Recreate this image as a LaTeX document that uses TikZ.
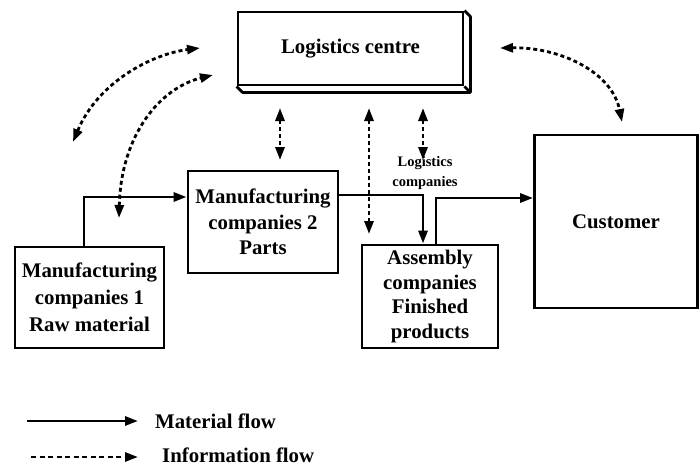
\documentclass[tikz,border=0pt]{standalone}
\usepackage{fontspec}
\setmainfont{Liberation Serif}
\usetikzlibrary{arrows.meta,calc}
\begin{document}
\begin{tikzpicture}[x=1pt,y=-1pt,
  box/.style={draw,line width=2.8pt,inner sep=0pt,align=center,
    font=\fontsize{20.8}{25.5}\selectfont\bfseries},
  mat/.style={line width=2.8pt,-{Triangle[length=13pt,width=9pt]}},
  info/.style={line width=2.8pt,dash pattern=on 4pt off 3pt,
    {Triangle[length=13pt,width=9pt]}-{Triangle[length=13pt,width=9pt]}},
  legend/.style={anchor=west,inner sep=0pt,font=\fontsize{20.8}{25}\selectfont\bfseries},
]
\useasboundingbox (0,0) rectangle (699,466);

% Logistics centre, drawn as a raised slab
\node[box,minimum width=225pt,minimum height=73pt] (lc) at (350.5,48.5) {Logistics centre};
\draw[line width=2.8pt,line join=round]
  (lc.south west) -- ++(6,6) -- ($(lc.south east)+(6,6)$) -- ($(lc.north east)+(6,6)$) -- (lc.north east)
  (lc.south east) -- ++(6,6);

% Companies
\node[box,minimum width=149pt,minimum height=101pt,
  font=\fontsize{20.8}{27}\selectfont\bfseries] (mc1) at (89.5,297.5)
  {Manufacturing\\companies 1\\Raw material};
\node[box,minimum width=150pt,minimum height=102pt] (mc2) at (263,222)
  {Manufacturing\\companies 2\\Parts};
\node[box,minimum width=136pt,minimum height=103pt,
  font=\fontsize{20.8}{24.5}\selectfont\bfseries] (asm) at (430,296.5)
  {Assembly\\companies\\Finished\\products};
\node[box,minimum width=163pt,minimum height=173pt] (cust) at (616,221.5) {Customer};

\node[align=center,inner sep=0pt,font=\fontsize{14.5}{19.5}\selectfont\bfseries] (lcomp) at (425,173)
  {Logistics\\companies};

% Material flow
\draw[mat] (mc1.north -| 84,0) |- (mc2.west |- 0,197);
\draw[mat] (mc2.east |- 0,195) -| (asm.north -| 423,0);
\draw[mat] (asm.north -| 436,0) |- (cust.west |- 0,198);

% Information flow
\coordinate (i1a) at (280,108); \coordinate (i1b) at (280,160);
\coordinate (i2a) at (369,108); \coordinate (i2b) at (369,234);
\coordinate (i3a) at (423,108); \coordinate (i3b) at (423,160);
\draw[info] (i1a) -- (i1b);
\draw[info] (i2a) -- (i2b);
\draw[info] (i3a) -- (i3b);

\coordinate (c1a) at (73,142);  \coordinate (c1b) at (200,48);
\coordinate (c2a) at (119,218); \coordinate (c2b) at (213,75);
\coordinate (c3a) at (500,48);  \coordinate (c3b) at (622,122);
\draw[info] (c1a) .. controls (98,82) and (152,54) .. (c1b);
\draw[info] (c2a) .. controls (121,135) and (160,88) .. (c2b);
\draw[info] (c3a) .. controls (560,47) and (612,72) .. (c3b);

% Legend
\coordinate (l1a) at (27,421); \coordinate (l1b) at (138,421);
\coordinate (l2a) at (31,457); \coordinate (l2b) at (138,457);
\draw[mat] (l1a) -- (l1b);
\draw[line width=2.8pt,dash pattern=on 5pt off 3.5pt,-{Triangle[length=13pt,width=9pt]}] (l2a) -- (l2b);
\node[legend] (lt1) at (155,421) {Material flow};
\node[legend] (lt2) at (162,455.5) {Information flow};
\end{tikzpicture}
\end{document}
